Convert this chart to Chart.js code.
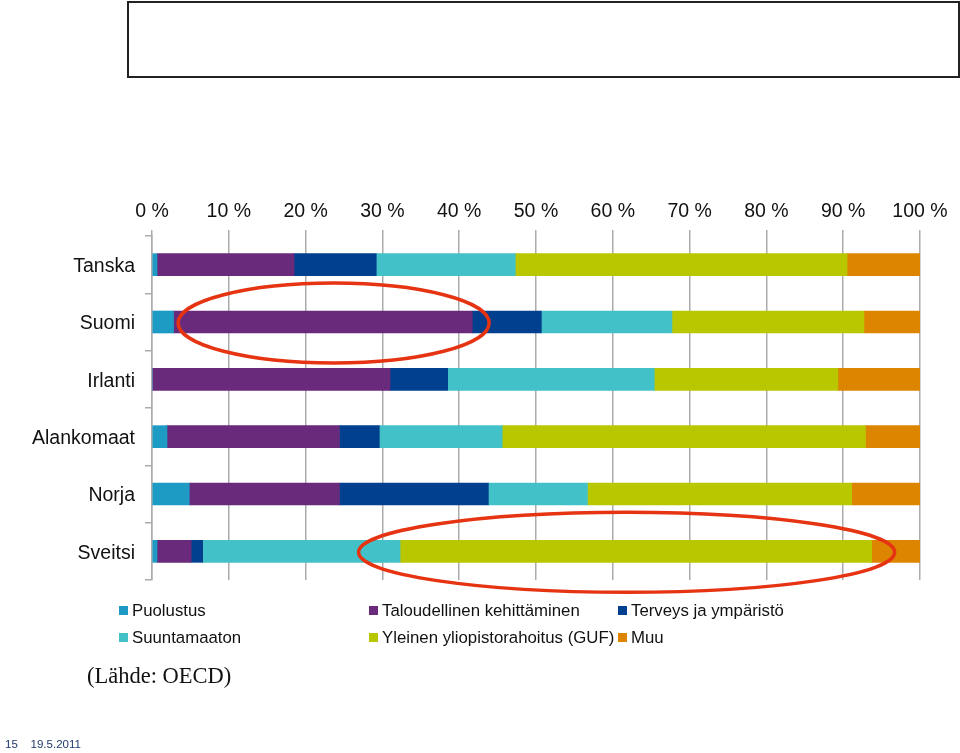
<!DOCTYPE html>
<html>
<head>
<meta charset="utf-8">
<script src="https://cdn.jsdelivr.net/npm/chart.js@4/dist/chart.umd.min.js"></script>
<style>
  body { margin: 0; background: #fff; font-family: "Liberation Sans", Arial, sans-serif; }
  #wrap { position: relative; width: 960px; height: 753px; overflow: hidden; }
  #titlebox { position: absolute; left: 127px; top: 1px; width: 829px; height: 73px; border: 2px solid #222; }
  canvas { position: absolute; left: 0; top: 0; }
  .leg { position: absolute; font-size: 16.8px; color: #111; white-space: nowrap; line-height: 18px; }
  .leg i { display: inline-block; width: 9px; height: 9px; margin-right: 4px; vertical-align: 1px; }
  #source { position: absolute; left: 87px; top: 663px; font-family: "Liberation Serif", "Times New Roman", serif; font-size: 22.5px; color: #111; }
  #footer { position: absolute; left: 5px; top: 738px; font-size: 11.5px; color: #1f3a6e; }
</style>
</head>
<body>
<div id="wrap">
  <div id="titlebox"></div>
  <canvas id="myChart" width="960" height="753"></canvas>
  <div id="legend"></div>
  <div id="source">(Lähde: OECD)</div>
  <div id="footer">15&nbsp;&nbsp;&nbsp;&nbsp;19.5.2011</div>
</div>
<script>
const categories = ['Tanska', 'Suomi', 'Irlanti', 'Alankomaat', 'Norja', 'Sveitsi'];
const seriesNames = ['Puolustus', 'Taloudellinen kehittäminen', 'Terveys ja ympäristö', 'Suuntamaaton', 'Yleinen yliopistorahoitus (GUF)', 'Muu'];
const seriesColors = ['#1e9bc5', '#6a2a7c', '#00408f', '#43c1c9', '#b8c700', '#dd8500'];

const puolustus = [0.65, 2.8, 0, 1.95, 4.85, 0.65];
const taloudellinen = [17.85, 38.9, 31.0, 22.45, 19.55, 4.45];
const terveys = [10.7, 9.0, 7.5, 5.2, 19.4, 1.5];
const suuntamaaton = [18.1, 17.0, 26.9, 16.0, 12.9, 25.7];
const yleinen = [43.2, 25.0, 23.9, 47.3, 34.4, 61.4];
const muu = [9.5, 7.3, 10.7, 7.1, 8.9, 6.3];

const xTicks = [0, 10, 20, 30, 40, 50, 60, 70, 80, 90, 100];

// highlighted ranges (category, from %, to %)
const highlights = [
  { category: 'Suomi', from: 3.4, to: 43.9 },
  { category: 'Sveitsi', from: 26.9, to: 96.7 }
];

const values = [puolustus, taloudellinen, terveys, suuntamaaton, yleinen, muu];

const datasets = seriesNames.map((name, i) => ({
  label: name,
  data: values[i],
  backgroundColor: seriesColors[i],
  borderWidth: 0,
  barThickness: 22
}));

// legend, 3 columns
const legendPos = [[119, 602], [369, 602], [618, 602], [119, 629], [369, 629], [618, 629]];
const legendEl = document.getElementById('legend');
seriesNames.forEach((name, i) => {
  const d = document.createElement('div');
  d.className = 'leg';
  d.style.left = legendPos[i][0] + 'px';
  d.style.top = legendPos[i][1] + 'px';
  d.innerHTML = '<i style="background:' + seriesColors[i] + '"></i>' + name;
  legendEl.appendChild(d);
});

const ellipsePlugin = {
  id: 'ellipses',
  afterDatasetsDraw(chart) {
    const { ctx, scales } = chart;
    ctx.save();
    ctx.strokeStyle = '#e63312';
    ctx.lineWidth = 3.5;
    highlights.forEach(h => {
      const x1 = scales.x.getPixelForValue(h.from);
      const x2 = scales.x.getPixelForValue(h.to);
      const cy = scales.y.getPixelForValue(categories.indexOf(h.category));
      ctx.beginPath();
      ctx.ellipse((x1 + x2) / 2, cy + 1, (x2 - x1) / 2, 40, 0, 0, Math.PI * 2);
      ctx.stroke();
    });
    ctx.restore();
  }
};

const ctx = document.getElementById('myChart').getContext('2d');
new Chart(ctx, {
  type: 'bar',
  data: { labels: categories, datasets },
  plugins: [ellipsePlugin],
  options: {
    indexAxis: 'y',
    responsive: false,
    animation: false,
    devicePixelRatio: 1,
    layout: { padding: { top: 190, left: 0, right: 40, bottom: 173 } },
    plugins: { legend: { display: false }, tooltip: { enabled: false } },
    scales: {
      x: {
        position: 'top',
        stacked: true,
        min: 0,
        max: 100,
        afterBuildTicks(scale) { scale.ticks = xTicks.map(v => ({ value: v })); },
        afterFit(scale) { scale.height = 46; },
        ticks: {
          color: '#111',
          font: { family: '"Liberation Sans", Arial, sans-serif', size: 19.5 },
          padding: 7,
          callback: v => v + ' %'
        },
        grid: { color: '#ababab', lineWidth: 1.5, tickLength: 6 },
        border: { display: false }
      },
      y: {
        stacked: true,
        afterFit(scale) { scale.width = 152; },
        ticks: {
          color: '#111',
          font: { family: '"Liberation Sans", Arial, sans-serif', size: 19.5 },
          padding: 10,
          labelOffset: 2
        },
        grid: { drawOnChartArea: false, color: '#ababab', lineWidth: 1.5, tickLength: 7 },
        border: { display: true, color: '#ababab', width: 1.5 }
      }
    }
  }
});
</script>
</body>
</html>
